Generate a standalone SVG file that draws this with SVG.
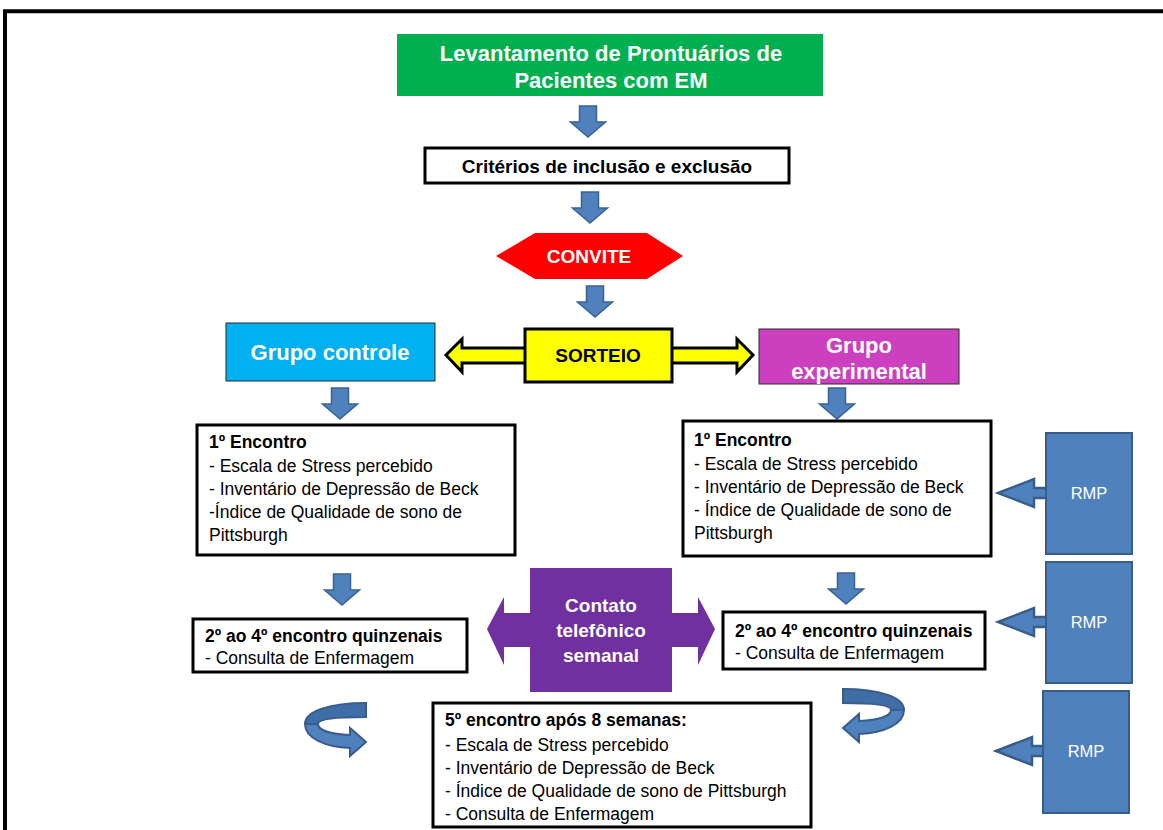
<svg xmlns="http://www.w3.org/2000/svg" xmlns:xlink="http://www.w3.org/1999/xlink" width="1163" height="830" viewBox="0 0 1163 830">
<style>
text{font-family:"Liberation Sans",Arial,sans-serif}
.box{fill:#fff;stroke:#000;stroke-width:3}
.t{font-size:17.5px;fill:#000}
.b{font-weight:bold}
.w{fill:#fff;font-weight:bold;text-anchor:middle}
.blue{fill:#4f81bd;stroke:#385d8a;stroke-width:2}
.rmp{fill:#fff;font-size:16.5px;text-anchor:middle}
</style>
<defs>
<path id="down" d="M-8.5,0 H8.5 V16 H17.5 L0,31 L-17.5,16 H-8.5 Z" fill="#4f81bd" stroke="#3a6193" stroke-width="1.5"/>
<path id="leftarr" d="M0,0 L36,-14 V-5 H49 V5 H36 V14 Z" fill="#4f81bd" stroke="#385d8a" stroke-width="2.5"/>
<g id="curl">
<path d="M366,703 C330,703 305,711 305,724 L318,724 C318,719 335,717 366,717 Z" fill="#3f6ea6" stroke="#385d8a" stroke-width="2"/>
<path d="M305,724 C305,738 325,747 350,748 L350,756 L366,742 L350,728 L350,735 C330,734 318,730 318,724 Z" fill="#4f81bd" stroke="#385d8a" stroke-width="2"/>
</g>
</defs>
<rect width="1163" height="830" fill="#fff"/>
<path d="M5,830 V11.3 H1163" fill="none" stroke="#000" stroke-width="4"/>

<g id="connectors">
<use xlink:href="#down" href="#down" transform="translate(588,106)"/>
<use xlink:href="#down" href="#down" transform="translate(590,192)"/>
<use xlink:href="#down" href="#down" transform="translate(595,286)"/>
<use xlink:href="#down" href="#down" transform="translate(340,388)"/>
<use xlink:href="#down" href="#down" transform="translate(837,388)"/>
<use xlink:href="#down" href="#down" transform="translate(342,574)"/>
<use xlink:href="#down" href="#down" transform="translate(846,573)"/>
<path d="M446,355 L462,339 V348 H737 V339 L753,355 L737,372 V363 H462 V372 Z" fill="#ffff00" stroke="#000" stroke-width="3" stroke-linejoin="miter"/>
<use xlink:href="#leftarr" href="#leftarr" transform="translate(998,493)"/>
<use xlink:href="#leftarr" href="#leftarr" transform="translate(998,622)"/>
<use xlink:href="#leftarr" href="#leftarr" transform="translate(996,751)"/>
<use xlink:href="#curl" href="#curl"/>
<use xlink:href="#curl" href="#curl" transform="translate(1209,-14) scale(-1,1)"/>
</g>

<g id="levantamento">
<rect x="397" y="34" width="426" height="62" fill="#00b050"/>
<text class="w" x="611" y="61" font-size="22">Levantamento de Prontuários de</text>
<text class="w" x="611" y="88" font-size="22">Pacientes com EM</text>
</g>

<g id="criterios">
<rect class="box" x="425" y="148" width="364" height="35"/>
<text class="b" x="607" y="173" font-size="19" text-anchor="middle">Critérios de inclusão e exclusão</text>
</g>

<g id="convite">
<polygon points="496,256 535,233 647,233 683,256 647,279 535,279" fill="#ff0000"/>
<text class="w" x="589" y="263" font-size="19">CONVITE</text>
</g>

<g id="sorteio">
<rect x="525" y="329" width="147" height="53" fill="#ffff00" stroke="#000" stroke-width="3"/>
<text class="b" x="598" y="362" font-size="19" text-anchor="middle">SORTEIO</text>
</g>

<g id="grupo-controle">
<rect x="226" y="323" width="209" height="58" fill="#00b0f0" stroke="#2a2a2a" stroke-width="1"/>
<text class="w" x="330" y="360" font-size="22">Grupo controle</text>
</g>

<g id="grupo-experimental">
<rect x="759" y="329" width="200" height="55" fill="#cc3fbe" stroke="#2a2a2a" stroke-width="1"/>
<text class="w" x="859" y="353" font-size="22">Grupo</text>
<text class="w" x="859" y="379" font-size="22">experimental</text>
</g>

<g id="encontro1-controle">
<rect class="box" x="197" y="425" width="318" height="130"/>
<text class="t b" x="209" y="448">1º Encontro</text>
<text class="t" x="209" y="472">- Escala de Stress percebido</text>
<text class="t" x="209" y="495">- Inventário de Depressão de Beck</text>
<text class="t" x="209" y="518">-Índice de Qualidade de sono de</text>
<text class="t" x="209" y="541">Pittsburgh</text>
</g>

<g id="encontro1-experimental">
<rect class="box" x="683" y="421" width="308" height="135"/>
<text class="t b" x="694" y="446">1º Encontro</text>
<text class="t" x="694" y="470">- Escala de Stress percebido</text>
<text class="t" x="694" y="493">- Inventário de Depressão de Beck</text>
<text class="t" x="694" y="516">- Índice de Qualidade de sono de</text>
<text class="t" x="694" y="539">Pittsburgh</text>
</g>

<g id="contato">
<polygon points="487,629 504,597 504,613 530,613 530,568 672,568 672,613 698,613 698,597 715,629 698,665 698,647 672,647 672,692 530,692 530,647 504,647 504,665" fill="#7030a0"/>
<text class="w" x="601" y="612" font-size="19">Contato</text>
<text class="w" x="601" y="637" font-size="19">telefônico</text>
<text class="w" x="601" y="662" font-size="19">semanal</text>
</g>

<g id="encontros-controle">
<rect class="box" x="193" y="619" width="274" height="53"/>
<text class="t b" x="205" y="642">2º ao 4º encontro quinzenais</text>
<text class="t" x="205" y="664">- Consulta de Enfermagem</text>
</g>

<g id="encontros-experimental">
<rect class="box" x="723" y="612" width="262" height="57"/>
<text class="t b" x="735" y="637">2º ao 4º encontro quinzenais</text>
<text class="t" x="735" y="659">- Consulta de Enfermagem</text>
</g>

<g id="encontro5">
<rect class="box" x="433" y="703" width="378" height="124"/>
<text class="t b" x="445" y="726">5º encontro após 8 semanas:</text>
<text class="t" x="445" y="751">- Escala de Stress percebido</text>
<text class="t" x="445" y="774">- Inventário de Depressão de Beck</text>
<text class="t" x="445" y="797">- Índice de Qualidade de sono de Pittsburgh</text>
<text class="t" x="445" y="820">- Consulta de Enfermagem</text>
</g>

<g id="rmp1">
<rect class="blue" x="1046" y="433" width="86" height="121" stroke-width="2.5"/>
<text class="rmp" x="1089" y="499">RMP</text>
</g>
<g id="rmp2">
<rect class="blue" x="1046" y="562" width="86" height="121" stroke-width="2.5"/>
<text class="rmp" x="1089" y="628">RMP</text>
</g>
<g id="rmp3">
<rect class="blue" x="1043" y="691" width="86" height="122" stroke-width="2.5"/>
<text class="rmp" x="1086" y="757">RMP</text>
</g>
</svg>
